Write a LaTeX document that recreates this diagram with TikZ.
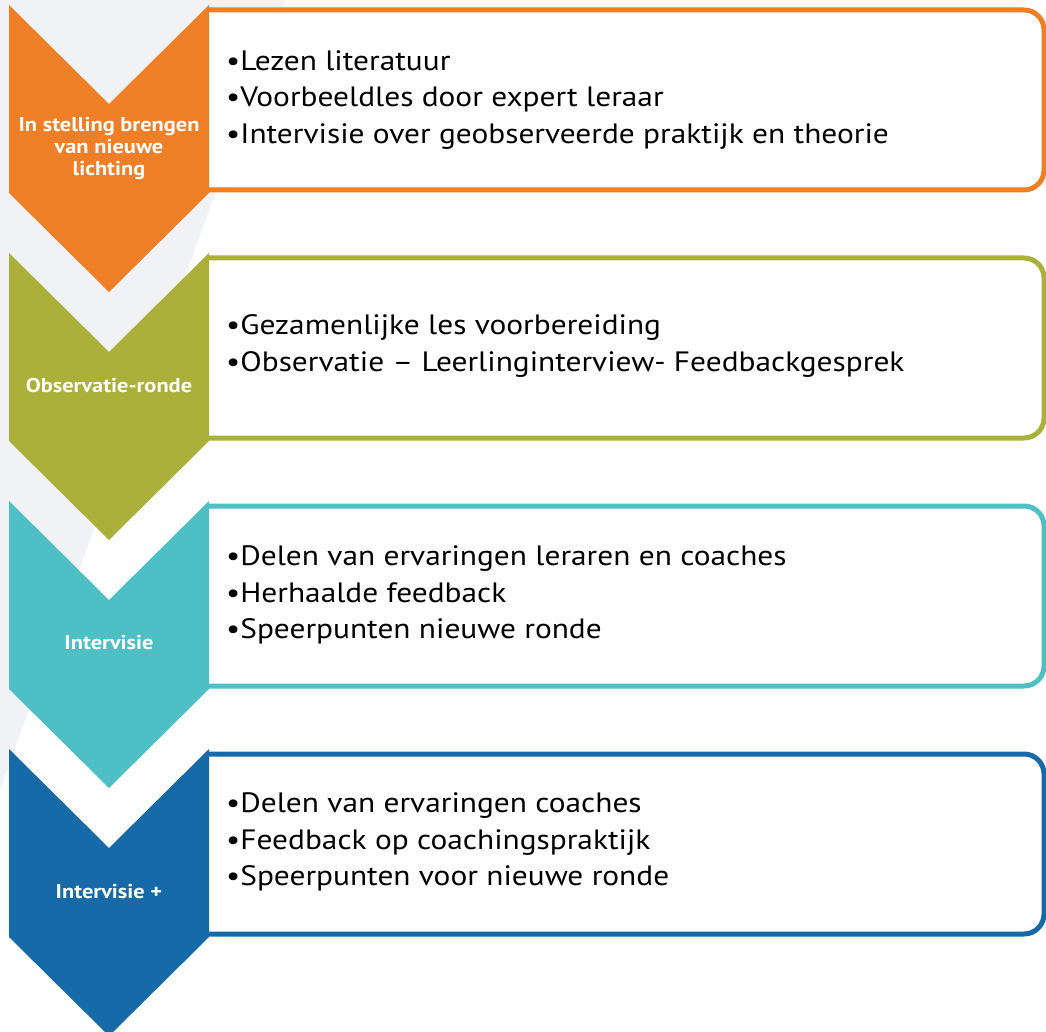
\documentclass[tikz,border=0pt]{standalone}
\usepackage{fontspec}
\setmainfont{PT Sans}[FakeStretch=1.12]
\definecolor{bggray}{HTML}{F0F2F6}
\definecolor{corange}{HTML}{EE7F27}
\definecolor{cgreen}{HTML}{AAB03A}
\definecolor{cteal}{HTML}{4EBFC5}
\definecolor{cblue}{HTML}{156AA7}
\tikzset{
  chev/.style={fill=#1, draw=none},
  listbox/.style={draw=#1, line width=5pt, fill=white, rounded corners=20pt},
  chevlabel/.style={text=white, font=\bfseries\fontsize{20}{22}\selectfont, align=center, inner sep=0pt},
  bullets/.style={anchor=west, align=left, font=\fontsize{28}{36.5}\selectfont, inner sep=0pt}
}
\newcommand{\stage}[5]{%
  % #1 top, #2 colour, #3 name, #4 label y, #5 label
  \draw[listbox=#2] (209,#1+5) -- (1044,#1+5) -- (1044,#1+185) -- (209,#1+185);
  \fill[chev=#2] (9,#1) -- (109,#1+99) -- (209,#1) -- (209,#1+188) -- (109,#1+287) -- (9,#1+188) -- cycle;
  \node[chevlabel] (#3) at (109,#4) {#5};
}
\begin{document}
\begin{tikzpicture}[x=1pt,y=-1pt]
\useasboundingbox (0,0) rectangle (1046,1032);
\fill[bggray] (0,0) -- (285,0) -- (0,790) -- cycle;
\stage{5}{corange}{l1}{149}{In stelling brengen\\van nieuwe\\lichting}
\node[bullets] (b1) at (226,100) {•Lezen literatuur\\•Voorbeeldles door expert leraar\\•Intervisie over geobserveerde praktijk en theorie};
\stage{253}{cgreen}{l2}{385}{Observatie-ronde}
\node[bullets] (b2) at (226,346) {•Gezamenlijke les voorbereiding\\•Observatie – Leerlinginterview- Feedbackgesprek};
\stage{501}{cteal}{l3}{643}{Intervisie}
\node[bullets] (b3) at (226,595) {•Delen van ervaringen leraren en coaches\\•Herhaalde feedback\\•Speerpunten nieuwe ronde};
\stage{749}{cblue}{l4}{892}{Intervisie +}
\node[bullets] (b4) at (226,842) {•Delen van ervaringen coaches\\•Feedback op coachingspraktijk\\•Speerpunten voor nieuwe ronde};
\end{tikzpicture}
\end{document}
